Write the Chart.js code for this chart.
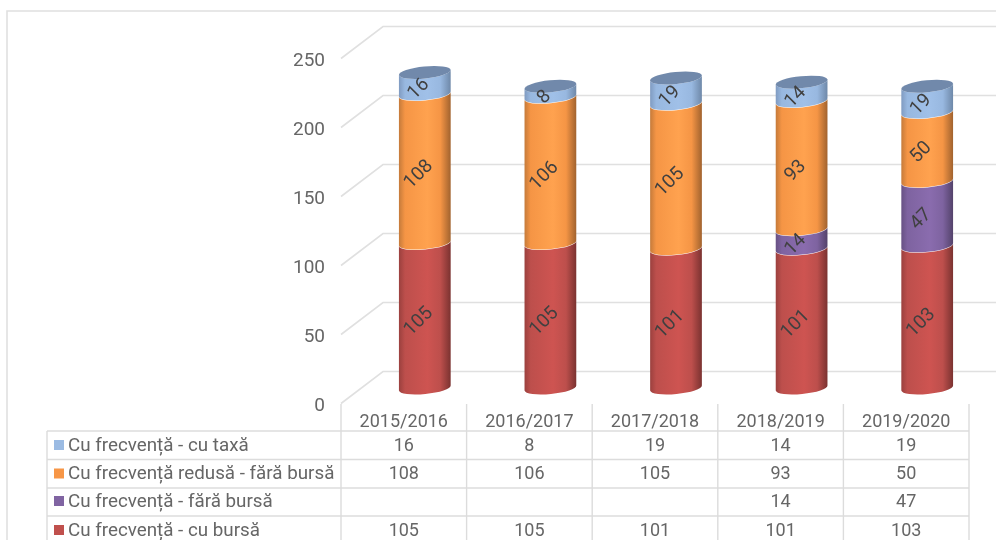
<!DOCTYPE html>
<html>
<head>
<meta charset="utf-8">
<script src="https://cdn.jsdelivr.net/npm/chart.js@4"></script>
<style>
  html, body { margin: 0; padding: 0; background: #fff; }
  canvas { display: block; filter: blur(0.4px); }
</style>
</head>
<body>
<canvas id="grafic" width="996" height="540"></canvas>
<script>
var ani = ['2015/2016', '2016/2017', '2017/2018', '2018/2019', '2019/2020'];
var cuBursa = [105, 105, 101, 101, 103];
var faraBursa = [null, null, null, 14, 47];
var redusa = [108, 106, 105, 93, 50];
var cuTaxa = [16, 8, 19, 14, 19];
var numeSerii = ['Cu frecvență - cu bursă', 'Cu frecvență - fără bursă', 'Cu frecvență redusă - fără bursă', 'Cu frecvență - cu taxă'];
var culori = ['#c0504d', '#8064a2', '#f79646', '#9bbbe3'];
// dark edge, mid, highlight, dark edge for the cylinder shading
var umbre = [
  ['#9a403e', '#bd4f4c', '#ce5451', '#7a3230'],
  ['#675183', '#7e63a0', '#8a6cae', '#53426a'],
  ['#c47a3a', '#f59545', '#ffa24f', '#a0622e'],
  ['#7f9ac0', '#98b8e0', '#a0c0e8', '#6e88a8']
];
var tickuri = [0, 50, 100, 150, 200, 250];

var TEXT = '#666666';
var LINIE = '#e0e0e0';
var RY = 6, TILT = -0.1;   // ellipse of the cylinder
var DX = 21, FRONT = 15, BACK = 17;  // depth of the fake 3d floor

function cadru(ctx, chart) {
  var y = chart.scales.y;
  ctx.save();
  ctx.strokeStyle = LINIE;
  ctx.lineWidth = 1.6;
  // outer chart border
  ctx.beginPath();
  ctx.moveTo(7, 540); ctx.lineTo(7, 11); ctx.lineTo(996, 11);
  ctx.stroke();
  // walls
  tickuri.forEach(function (t) {
    var p = y.getPixelForValue(t);
    ctx.beginPath();
    ctx.moveTo(chart.chartArea.left - DX, p + FRONT);
    ctx.lineTo(chart.chartArea.left + DX, p - BACK);
    ctx.lineTo(996, p - BACK);
    ctx.stroke();
  });
  ctx.restore();
}

function tabel(ctx, chart) {
  var x = chart.scales.x;
  var latime = x.getPixelForValue(1) - x.getPixelForValue(0);
  var st = x.getPixelForValue(0) - latime / 2 - DX;
  var randuri = [431, 459.5, 488, 516];
  var centre = [445, 473.5, 501, 530];
  ctx.save();
  ctx.strokeStyle = '#dcdcdc';
  ctx.lineWidth = 1.4;
  randuri.forEach(function (r) {
    ctx.beginPath(); ctx.moveTo(47, r); ctx.lineTo(st + latime * ani.length, r); ctx.stroke();
  });
  ctx.beginPath(); ctx.moveTo(47, 431); ctx.lineTo(47, 540); ctx.stroke();
  for (var c = 0; c <= ani.length; c++) {
    ctx.beginPath(); ctx.moveTo(st + latime * c, 404); ctx.lineTo(st + latime * c, 540); ctx.stroke();
  }
  ctx.textBaseline = 'middle';
  chart.data.datasets.slice().reverse().forEach(function (ds, i) {
    var idx = chart.data.datasets.length - 1 - i;
    ctx.fillStyle = culori[idx];
    ctx.fillRect(54, centre[i] - 5, 10, 10);
    ctx.fillStyle = TEXT;
    ctx.textAlign = 'left';
    ctx.font = '18.8px Roboto';
    ctx.fillText(ds.label, 68, centre[i] + 1);
    ctx.textAlign = 'center';
    ctx.font = '18px Roboto';
    ds.data.forEach(function (v, k) {
      if (v !== null) ctx.fillText(v, st + latime * (k + 0.5), centre[i] + 1);
    });
  });
  ctx.restore();
}

var cilindri = {
  id: 'cilindri',
  beforeDatasetsDraw: function (chart) {
    cadru(chart.ctx, chart);
    tabel(chart.ctx, chart);
  },
  beforeDatasetDraw: function (chart, args) {
    var ctx = chart.ctx, s = umbre[args.index];
    var ultimul = args.index === chart.data.datasets.length - 1;
    args.meta.data.forEach(function (el, k) {
      if (chart.data.datasets[args.index].data[k] === null) return;
      var rx = el.width / 2;
      var g = ctx.createLinearGradient(el.x - rx, 0, el.x + rx, 0);
      g.addColorStop(0, s[0]);
      g.addColorStop(0.12, s[1]);
      g.addColorStop(0.55, s[2]);
      g.addColorStop(0.8, s[1]);
      g.addColorStop(1, s[3]);
      ctx.save();
      ctx.fillStyle = g;
      ctx.beginPath();
      ctx.ellipse(el.x, el.y, rx, RY, TILT, Math.PI, 0, true);
      ctx.ellipse(el.x, el.base - 0.5, rx, RY, TILT, 0, Math.PI, false);
      ctx.closePath();
      ctx.fill();
      if (ultimul) {
        ctx.fillStyle = '#7189ab';
        ctx.beginPath();
        ctx.ellipse(el.x, el.y, rx, RY, TILT, 0, Math.PI * 2);
        ctx.fill();
      }
      ctx.restore();
    });
    return false;
  },
  afterDatasetsDraw: function (chart) {
    var ctx = chart.ctx;
    chart.data.datasets.forEach(function (ds, i) {
      chart.getDatasetMeta(i).data.forEach(function (el, k) {
        if (ds.data[k] === null) return;
        ctx.save();
        ctx.translate(el.x - 6, (el.y + el.base) / 2 + 5.5);
        ctx.rotate(-Math.PI / 4);
        ctx.font = '19px Roboto';
        ctx.fillStyle = '#404040';
        ctx.textAlign = 'center';
        ctx.textBaseline = 'middle';
        ctx.fillText(ds.data[k], 0, 0);
        ctx.restore();
      });
    });
  }
};

new Chart(document.getElementById('grafic'), {
  type: 'bar',
  data: {
    labels: ani,
    datasets: [
      { label: numeSerii[0], data: cuBursa, backgroundColor: culori[0] },
      { label: numeSerii[1], data: faraBursa, backgroundColor: culori[1] },
      { label: numeSerii[2], data: redusa, backgroundColor: culori[2] },
      { label: numeSerii[3], data: cuTaxa, backgroundColor: culori[3] }
    ]
  },
  options: {
    responsive: false,
    animation: false,
    events: [],
    layout: { padding: { top: 43.5, right: 6, left: 0, bottom: 0 } },
    datasets: { bar: { barPercentage: 0.414, categoryPercentage: 1 } },
    plugins: { legend: { display: false }, tooltip: { enabled: false } },
    scales: {
      x: {
        stacked: true,
        grid: { display: false, drawTicks: false },
        border: { display: false },
        afterFit: function (s) { s.height = 151.5; s.paddingLeft = 0; s.paddingRight = 0; },
        ticks: { font: { family: 'Roboto', size: 18 }, color: TEXT, padding: 23, labelOffset: -DX, autoSkip: false, maxRotation: 0 }
      },
      y: {
        stacked: true,
        min: 0,
        max: 250,
        grid: { display: false, drawTicks: false },
        border: { display: false },
        afterFit: function (s) { s.width = 362; s.paddingTop = 0; s.paddingBottom = 0; },
        afterBuildTicks: function (s) { s.ticks = tickuri.map(function (v) { return { value: v }; }); },
        ticks: { font: { family: 'Roboto', size: 19 }, color: TEXT, padding: 37, labelOffset: FRONT + 3 }
      }
    }
  },
  plugins: [cilindri]
});
</script>
</body>
</html>
